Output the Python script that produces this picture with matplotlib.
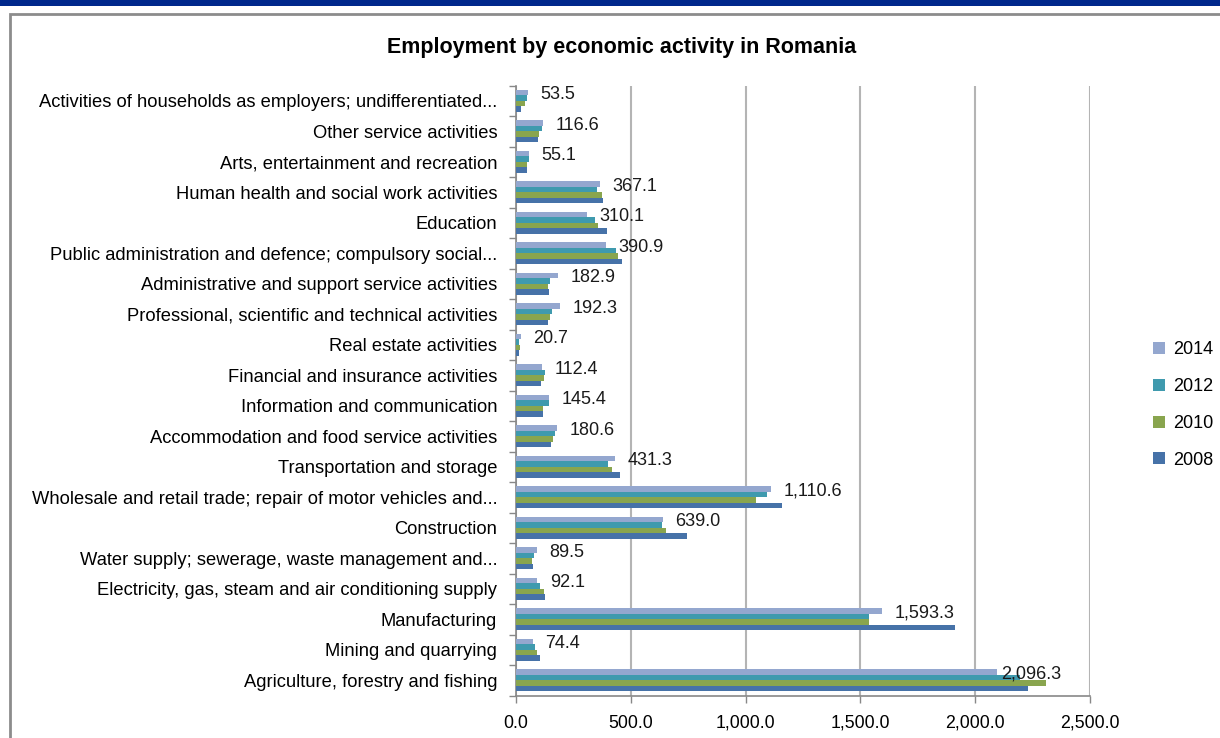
import numpy as np
import matplotlib
matplotlib.use("Agg")
import matplotlib.pyplot as plt
from matplotlib.patches import Rectangle
from matplotlib.ticker import FuncFormatter, FixedLocator

plt.rcParams['font.family'] = ['Liberation Sans', 'DejaVu Sans']

# categories, bottom to top
categories = [
    "Agriculture, forestry and fishing",
    "Mining and quarrying",
    "Manufacturing",
    "Electricity, gas, steam and air conditioning supply",
    "Water supply; sewerage, waste management and...",
    "Construction",
    "Wholesale and retail trade; repair of motor vehicles and...",
    "Transportation and storage",
    "Accommodation and food service activities",
    "Information and communication",
    "Financial and insurance activities",
    "Real estate activities",
    "Professional, scientific and technical activities",
    "Administrative and support service activities",
    "Public administration and defence; compulsory social...",
    "Education",
    "Human health and social work activities",
    "Arts, entertainment and recreation",
    "Other service activities",
    "Activities of households as employers; undifferentiated...",
]

v2014 = [2096.3, 74.4, 1593.3, 92.1, 89.5, 639.0, 1110.6, 431.3, 180.6, 145.4,
         112.4, 20.7, 192.3, 182.9, 390.9, 310.1, 367.1, 55.1, 116.6, 53.5]
v2012 = [2193, 81, 1536, 103, 80, 636, 1093, 401, 170, 145,
         126, 13, 157, 150, 435, 345, 353, 55, 112, 48]
v2010 = [2310, 93, 1536, 120, 70, 653, 1044, 418, 163, 119,
         123, 19, 150, 141, 446, 359, 375, 48, 101, 38]
v2008 = [2228, 106, 1910, 128, 74, 745, 1158, 453, 152, 119,
         109, 14, 141, 145, 463, 396, 380, 49, 97, 23]

years = ["2008", "2010", "2012", "2014"]
series = [v2008, v2010, v2012, v2014]
colors = ["#4672a8", "#89a54e", "#3f9aae", "#94a7cf"]

fig = plt.figure(figsize=(12.2, 7.38), dpi=100)

# page decoration: navy strip and chart frame
fig.patches.append(Rectangle((0, 1 - 6 / 738), 1, 6 / 738, transform=fig.transFigure,
                             facecolor="#00288c", edgecolor="none", zorder=0))
fig.patches.append(Rectangle((10 / 1220, -0.1), 1.2, 1 - 14 / 738 + 0.1,
                             transform=fig.transFigure, facecolor="none",
                             edgecolor="#8c8c8c", linewidth=2, zorder=0))

ax = fig.add_axes([516 / 1220, 1 - 695.5 / 738, 574 / 1220, (695.5 - 85.5) / 738])

y = np.arange(len(categories))
h = 0.18
bars = []
for i, (vals, col, yr) in enumerate(zip(series, colors, years)):
    b = ax.barh(y + (i - 1.5) * h, vals, height=h, color=col, label=yr, zorder=3)
    bars.append(b)

# data labels for 2014
for yi, v in zip(y, v2014):
    off = 3 if v > 2000 else 9
    ax.annotate(f"{v:,.1f}", xy=(v, yi + 1.5 * h), xytext=(off, -1.5),
                textcoords="offset points", va="center", ha="left",
                fontsize=13, color="#1a1a1a", zorder=4)

ax.set_xlim(0, 2500)
ax.set_ylim(-0.5, len(categories) - 0.5)
ax.set_xticks(np.arange(0, 2501, 500))
ax.xaxis.set_major_formatter(FuncFormatter(lambda x, p: f"{x:,.1f}"))
ax.set_yticks(y)
ax.set_yticklabels(categories, fontsize=13.2)
ax.yaxis.set_minor_locator(FixedLocator(np.arange(-0.5, len(categories), 1)))
ax.tick_params(axis="y", which="major", length=0, pad=13.5)
ax.tick_params(axis="y", which="minor", length=5, color="#888888", width=1)
ax.tick_params(axis="x", length=5, color="#888888", width=1, labelsize=12.8, pad=9)

ax.grid(axis="x", color="#b4b4b4", linewidth=1.5, zorder=0)
for s in ["top", "right"]:
    ax.spines[s].set_visible(False)
for s in ["left", "bottom"]:
    ax.spines[s].set_color("#888888")
    ax.spines[s].set_linewidth(1.2)

fig.text(622 / 1220, 1 - 47 / 738, "Employment by economic activity in Romania",
         ha="center", va="center", fontsize=15.5, fontweight="bold")

handles = bars[::-1]
fig.legend(handles, years[::-1], loc="center left",
           bbox_to_anchor=(1137 / 1220, 1 - 405 / 738), frameon=False,
           fontsize=13, handlelength=0.65, handleheight=0.65, handletextpad=0.45,
           labelspacing=1.1)

fig.savefig("out.png", dpi=100)
